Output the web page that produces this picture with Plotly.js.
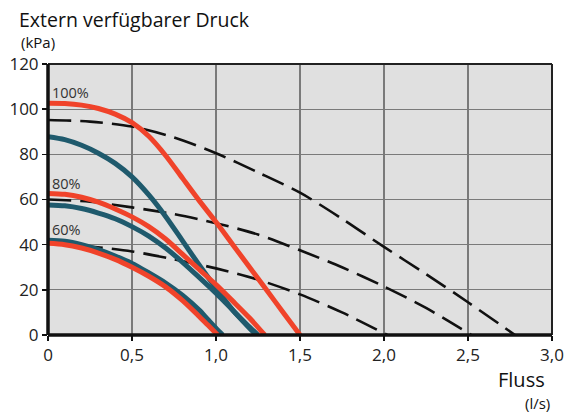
<!DOCTYPE html>
<html>
<head>
<meta charset="utf-8">
<script src="https://cdn.plot.ly/plotly-3.0.1.min.js"></script>
<style>html,body{margin:0;padding:0;background:#fff;}#chart{width:574px;height:414px;}</style>
</head>
<body>
<div id="chart"></div>
<script>
// Red curves (pump 100%, 80%, 60%)
const red100X = [0, 0.1, 0.2, 0.3, 0.4, 0.5, 0.6, 0.7, 0.8, 0.9, 1.0, 1.1, 1.2, 1.3, 1.4, 1.5];
const red100Y = [102.6, 102.5, 101.8, 100.3, 97.8, 94, 88, 79.5, 69.5, 59.5, 50, 40, 30, 20, 10, 0];
const red80X = [0, 0.1, 0.2, 0.3, 0.4, 0.5, 0.6, 0.7, 0.8, 0.9, 1.0, 1.1, 1.2, 1.29];
const red80Y = [62.7, 62.3, 61, 58.8, 55.8, 52.3, 48, 42.5, 35.8, 29, 22.3, 15, 7.5, 0];
const red60X = [0, 0.1, 0.2, 0.3, 0.4, 0.5, 0.6, 0.7, 0.8, 0.9, 0.95, 1.01];
const red60Y = [40.6, 40, 38.5, 36.3, 33.5, 30, 26, 21.3, 15.3, 8.2, 4.5, 0];
// Teal curves
const blue100X = [0, 0.1, 0.2, 0.3, 0.4, 0.5, 0.6, 0.7, 0.8, 0.9, 1.0, 1.1, 1.2, 1.24];
const blue100Y = [87.8, 86.5, 84, 80.5, 76, 70, 62, 52.5, 41.8, 31, 20.8, 11, 3, 0];
const blue80X = [0, 0.1, 0.2, 0.3, 0.4, 0.5, 0.6, 0.7, 0.8, 0.9, 1.0, 1.1, 1.2, 1.25];
const blue80Y = [57.6, 57.2, 56, 54, 51.5, 48, 43.8, 38.5, 32.3, 25.5, 18.5, 11, 3.5, 0];
const blue60X = [0, 0.1, 0.2, 0.3, 0.4, 0.5, 0.6, 0.7, 0.8, 0.9, 0.95, 1.0, 1.04];
const blue60Y = [42, 41.5, 40, 37.8, 35, 31.7, 27.5, 23, 17.6, 11, 7, 3, 0];
// Dashed system curves
const dashAX = [0, 0.25, 0.5, 0.75, 1.0, 1.25, 1.5, 1.75, 2.0, 2.25, 2.5, 2.78];
const dashAY = [95.2, 94.5, 92.3, 87.5, 80.5, 72, 63, 51.5, 39, 27, 14.5, 0];
const dashBX = [0, 0.25, 0.5, 0.75, 1.0, 1.25, 1.5, 1.75, 2.0, 2.25, 2.52];
const dashBY = [60, 59, 56.5, 53.5, 49.5, 44.5, 37.5, 30, 21.5, 12, 0];
const dashCX = [0, 0.25, 0.5, 0.75, 1.0, 1.25, 1.5, 1.75, 2.02];
const dashCY = [40.5, 39.2, 37, 33.5, 29.5, 24.5, 18, 10, 0];

const xTickVals = [0, 0.5, 1.0, 1.5, 2.0, 2.5, 3.0];
const xTickText = ["0", "0,5", "1,0", "1,5", "2,0", "2,5", "3,0"];
const yTickVals = [0, 20, 40, 60, 80, 100, 120];
const curveLabels = ["100%", "80%", "60%"];
const curveLabelY = [107.5, 67.3, 46.9];

const RED = "#f0432a", TEAL = "#1f5a6d";
const FONT = "Open Sans, Noto Sans, sans-serif";

function solid(x, y, c) {
  return {x: x, y: y, mode: "lines", line: {color: c, width: 5, shape: "spline", smoothing: 0.8}, hoverinfo: "skip"};
}
function dashed(x, y) {
  return {x: x, y: y, mode: "lines", line: {color: "#111", width: 2.6, dash: "23px,9px", shape: "spline", smoothing: 0.8}, hoverinfo: "skip"};
}

const data = [
  dashed(dashAX, dashAY), dashed(dashBX, dashBY), dashed(dashCX, dashCY),
  solid(blue100X, blue100Y, TEAL), solid(blue80X, blue80Y, TEAL), solid(blue60X, blue60Y, TEAL),
  solid(red100X, red100Y, RED), solid(red80X, red80Y, RED), solid(red60X, red60Y, RED)
];

const annotations = curveLabels.map((t, i) => ({
  text: t, x: 0.01, y: curveLabelY[i], xref: "x", yref: "y", xanchor: "left", yanchor: "middle",
  showarrow: false, font: {family: FONT, size: 14.5, color: "#333"}
}));
annotations.push(
  {text: "Extern verfügbarer Druck", xref: "paper", yref: "paper", x: -0.0615, y: 1.165, xanchor: "left", yanchor: "middle", showarrow: false, font: {family: FONT, size: 19.5, color: "#111"}},
  {text: "(kPa)", xref: "paper", yref: "paper", x: -0.058, y: 1.08, xanchor: "left", yanchor: "middle", showarrow: false, font: {family: FONT, size: 15, color: "#111"}},
  {text: "Fluss", xref: "paper", yref: "paper", x: 0.99, y: -0.165, xanchor: "right", yanchor: "middle", showarrow: false, font: {family: FONT, size: 20, color: "#111"}},
  {text: "(l/s)", xref: "paper", yref: "paper", x: 1.0, y: -0.25, xanchor: "right", yanchor: "middle", showarrow: false, font: {family: FONT, size: 15, color: "#111"}}
);

const layout = {
  width: 574, height: 414,
  margin: {l: 48, r: 22, t: 64, b: 79},
  paper_bgcolor: "#fff", plot_bgcolor: "#e0e0e0",
  showlegend: false,
  xaxis: {range: [0, 3], tickvals: xTickVals, ticktext: xTickText, showgrid: true, gridcolor: "#7a7a7a", gridwidth: 1.2,
    zeroline: false, showline: false, ticks: "outside", ticklen: 5, tickcolor: "#111", tickwidth: 1.5,
    tickfont: {family: FONT, size: 17, color: "#222"}, fixedrange: true},
  yaxis: {range: [0, 120], tickvals: yTickVals, showgrid: true, gridcolor: "#7a7a7a", gridwidth: 1.2,
    zeroline: false, showline: false, ticks: "outside", ticklen: 5, tickcolor: "#111", tickwidth: 1.5,
    tickfont: {family: FONT, size: 17, color: "#222"}, fixedrange: true},
  shapes: [
    {type: "line", xref: "paper", yref: "paper", x0: 0, x1: 1, y0: 1, y1: 1, line: {color: "#222", width: 2}},
    {type: "line", xref: "paper", yref: "paper", x0: 1, x1: 1, y0: 0, y1: 1, line: {color: "#222", width: 2}},
    {type: "line", xref: "paper", yref: "paper", x0: 0, x1: 0, y0: 0, y1: 1, line: {color: "#111", width: 3.5}},
    {type: "line", xref: "paper", yref: "paper", x0: 0, x1: 1, y0: 0, y1: 0, line: {color: "#111", width: 3.5}}
  ],
  annotations: annotations
};

Plotly.newPlot("chart", data, layout, {staticPlot: true, displayModeBar: false});
</script>
</body>
</html>
